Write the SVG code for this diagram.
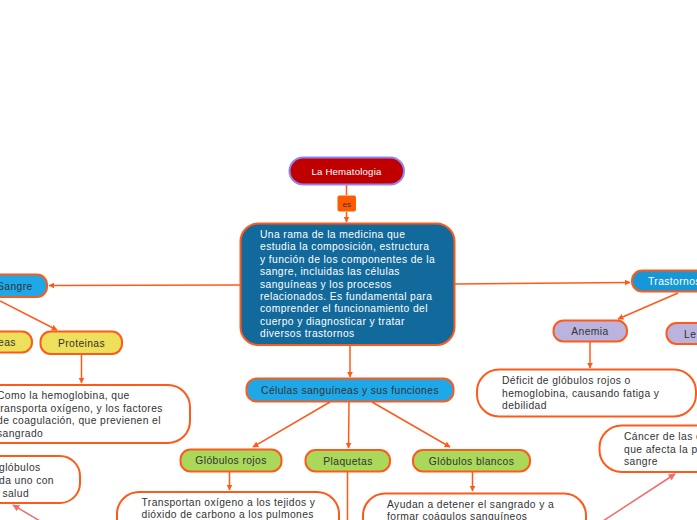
<svg xmlns="http://www.w3.org/2000/svg" width="697" height="520" viewBox="0 0 697 520">
<style>
text{font-family:"Liberation Sans",Arial,sans-serif;font-size:10.3px;letter-spacing:0.4px;fill:#333}
.w{fill:#fff}
.c{text-anchor:middle}
.n{stroke:#ff5a1a;stroke-width:2}
.blue{fill:#1ea8e8}
.yel{fill:#efe05c}
.grn{fill:#a9d85a}
.lav{fill:#bab3dd}
.box{fill:#fff}
.ln{stroke:#ff5a1a;stroke-width:1.5;fill:none}
.pk{stroke:#f56a6a;stroke-width:1.5;fill:none}
</style>
<defs>
<marker id="a" viewBox="0 0 10 10" refX="9" refY="5" markerWidth="6" markerHeight="6" orient="auto" markerUnits="userSpaceOnUse">
<path d="M0,0 L10,5 L0,10 z" fill="#ff5a1a"/>
</marker>
<marker id="p" viewBox="0 0 10 10" refX="9" refY="5" markerWidth="7" markerHeight="7" orient="auto" markerUnits="userSpaceOnUse">
<path d="M0,0 L10,5 L0,10 z" fill="#f56a6a"/>
</marker>
</defs>
<rect width="697" height="520" fill="#fff"/>
<g id="connectors">
<line class="ln" x1="346.5" y1="185" x2="346.5" y2="195"/>
<line class="ln" x1="346.5" y1="212" x2="346.5" y2="222" marker-end="url(#a)"/>
<line class="ln" x1="240" y1="285" x2="49" y2="285.5" marker-end="url(#a)"/>
<line class="ln" x1="455" y1="284" x2="630" y2="282.5" marker-end="url(#a)"/>
<line class="ln" x1="0" y1="301" x2="57" y2="330" marker-end="url(#a)"/>
<line class="ln" x1="81.5" y1="355" x2="81.5" y2="383" marker-end="url(#a)"/>
<line class="ln" x1="678" y1="293" x2="618" y2="319" marker-end="url(#a)"/>
<line class="ln" x1="590" y1="342" x2="590" y2="368" marker-end="url(#a)"/>
<line class="ln" x1="350" y1="345" x2="350" y2="377" marker-end="url(#a)"/>
<line class="ln" x1="330" y1="402" x2="253" y2="447" marker-end="url(#a)"/>
<line class="ln" x1="349" y1="402" x2="348.5" y2="448" marker-end="url(#a)"/>
<line class="ln" x1="372" y1="402" x2="450" y2="447" marker-end="url(#a)"/>
<line class="ln" x1="229.5" y1="472" x2="229.5" y2="490" marker-end="url(#a)"/>
<line class="ln" x1="347.5" y1="472" x2="347.5" y2="521"/>
<line class="ln" x1="472.5" y1="472" x2="472.5" y2="491" marker-end="url(#a)"/>
<line class="pk" x1="40" y1="521" x2="13" y2="505" marker-end="url(#p)"/>
<line class="pk" x1="603" y1="521" x2="675" y2="474" marker-end="url(#p)"/>
</g>
<g id="hematologia">
<rect x="289.5" y="157.5" width="114.5" height="27" rx="13.5" fill="#c00000" stroke="#8f84f5" stroke-width="2"/>
<text class="w c" x="346.5" y="175" style="font-size:9.6px;letter-spacing:0.2px">La Hematologia</text>
</g>
<g id="es">
<rect x="337.5" y="195.5" width="18.5" height="16" rx="2" fill="#ff5a00"/>
<text class="c" x="346.7" y="207" style="font-size:8px;letter-spacing:0">es</text>
</g>
<g id="definicion">
<rect x="240.5" y="223.5" width="214" height="121.5" rx="18" fill="#12699b" class="n"/>
<text class="w" x="260" y="238">Una rama de la medicina que</text>
<text class="w" x="260" y="250.4">estudia la composición, estructura</text>
<text class="w" x="260" y="262.8">y función de los componentes de la</text>
<text class="w" x="260" y="275.2">sangre, incluidas las células</text>
<text class="w" x="260" y="287.6">sanguíneas y los procesos</text>
<text class="w" x="260" y="300">relacionados. Es fundamental para</text>
<text class="w" x="260" y="312.4">comprender el funcionamiento del</text>
<text class="w" x="260" y="324.8">cuerpo y diagnosticar y tratar</text>
<text class="w" x="260" y="337.2">diversos trastornos</text>
</g>
<g id="sangre">
<rect x="-40" y="274.5" width="87" height="22.5" rx="10" class="n blue"/>
<text x="-3" y="289.5">Sangre</text>
</g>
<g id="eas">
<rect x="-40" y="331.5" width="72" height="21" rx="10" class="n yel"/>
<text x="-2" y="346">eas</text>
</g>
<g id="proteinas">
<rect x="40.5" y="331.5" width="81.5" height="22.5" rx="10" class="n yel"/>
<text class="c" x="81.5" y="346.5">Proteinas</text>
</g>
<g id="proteinas-desc">
<rect x="-40" y="385" width="230" height="58" rx="22" class="n box"/>
<text x="-3" y="399">Como la hemoglobina, que</text>
<text x="-3" y="411.5">transporta oxígeno, y los factores</text>
<text x="-3" y="424">de coagulación, que previenen el</text>
<text x="-3" y="436.5">sangrado</text>
</g>
<g id="izq-desc">
<rect x="-40" y="456" width="120" height="47" rx="20" class="n box"/>
<text x="-1" y="471">glóbulos</text>
<text x="-1" y="484">da uno con</text>
<text x="-7" y="497">a salud</text>
</g>
<g id="celulas">
<rect x="246.5" y="378.5" width="207" height="23" rx="10" class="n blue"/>
<text class="c" x="350" y="393.5">Células sanguíneas y sus funciones</text>
</g>
<g id="rojos">
<rect x="180.5" y="449.5" width="101" height="22" rx="10" class="n grn"/>
<text class="c" x="231" y="464">Glóbulos rojos</text>
</g>
<g id="plaquetas">
<rect x="305.5" y="450" width="84.5" height="21.5" rx="10" class="n grn"/>
<text class="c" x="348" y="464.5">Plaquetas</text>
</g>
<g id="blancos">
<rect x="413" y="450" width="117" height="21.5" rx="10" class="n grn"/>
<text class="c" x="471.5" y="464.5">Glóbulos blancos</text>
</g>
<g id="rojos-desc">
<rect x="117" y="492" width="222" height="60" rx="22" class="n box"/>
<text x="141.5" y="506">Transportan oxígeno a los tejidos y</text>
<text x="141.5" y="518">dióxido de carbono a los pulmones</text>
</g>
<g id="blancos-desc">
<rect x="363" y="493.5" width="223" height="60" rx="22" class="n box"/>
<text x="387" y="508">Ayudan a detener el sangrado y a</text>
<text x="387" y="520">formar coágulos sanguíneos</text>
</g>
<g id="trastornos">
<rect x="632" y="270.5" width="100" height="21" rx="10" class="n" fill="#1597d8"/>
<text class="w" x="648" y="285">Trastornos</text>
</g>
<g id="anemia">
<rect x="553.5" y="320.5" width="73.5" height="21" rx="10" class="n lav"/>
<text class="c" x="590" y="335">Anemia</text>
</g>
<g id="leucemia">
<rect x="666.5" y="323" width="60" height="21" rx="10" class="n lav"/>
<text x="684" y="337.5">Le</text>
</g>
<g id="anemia-desc">
<rect x="477" y="369.5" width="219" height="47" rx="22" class="n box"/>
<text x="502" y="384">Déficit de glóbulos rojos o</text>
<text x="502" y="396.5">hemoglobina, causando fatiga y</text>
<text x="502" y="409">debilidad</text>
</g>
<g id="leucemia-desc">
<rect x="599.5" y="425.5" width="140" height="46.5" rx="22" class="n box"/>
<text x="624" y="440">Cáncer de las c</text>
<text x="624" y="452.5">que afecta la p</text>
<text x="624" y="465">sangre</text>
</g>
</svg>
